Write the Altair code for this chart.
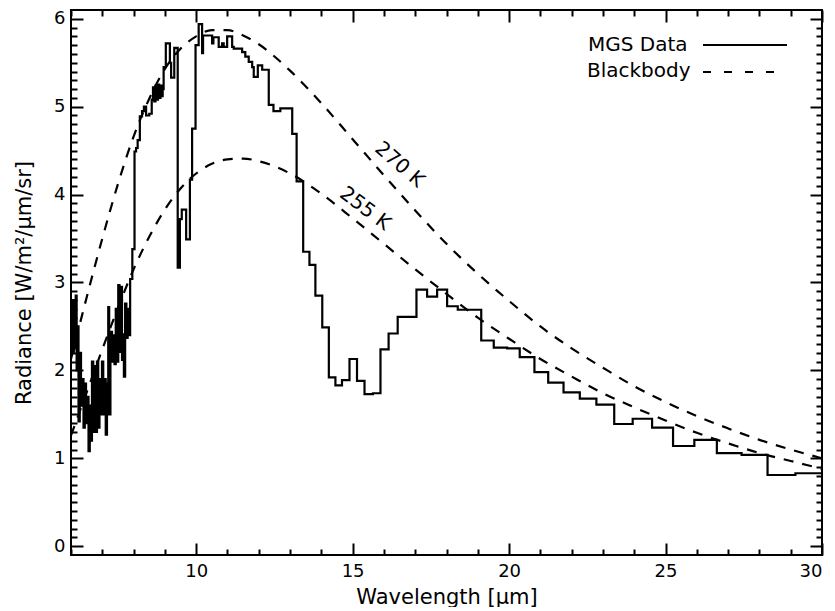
import altair as alt
import pandas as pd

# ---- MGS (TES) spectrum: step bins (left edge, micron) and radiance ----
mgs_wavelength = [
    6.00, 6.03, 6.06, 6.09, 6.12, 6.15, 6.18, 6.21, 6.24, 6.28, 6.32, 6.36, 6.40, 6.44,
    6.48, 6.52, 6.56, 6.60, 6.63, 6.67, 6.71, 6.75, 6.79, 6.83, 6.87, 6.91, 6.95, 6.99,
    7.03, 7.07, 7.11, 7.15, 7.19, 7.22, 7.26, 7.31, 7.35, 7.39, 7.43, 7.47, 7.51, 7.55,
    7.59, 7.63, 7.66, 7.69, 7.73, 7.77, 7.81, 7.85, 7.89, 7.96, 8.03, 8.08, 8.13, 8.20,
    8.27, 8.33, 8.40, 8.50, 8.58, 8.62, 8.66, 8.70, 8.74, 8.78, 8.82, 8.86, 8.90, 8.93,
    8.96, 9.03, 9.16, 9.20, 9.30, 9.41, 9.48, 9.54, 9.68, 9.80, 9.87, 9.98, 10.08, 10.19,
    10.22, 10.51, 10.55, 10.72, 10.83, 10.88, 10.99, 11.15, 11.20, 11.47, 11.57, 11.68,
    11.79, 11.84, 11.97, 12.11, 12.32, 12.47, 12.69, 13.07, 13.21, 13.42, 13.62, 13.81,
    14.03, 14.24, 14.45, 14.66, 14.90, 15.14, 15.38, 15.65, 15.89, 16.15, 16.44, 17.04,
    17.38, 17.70, 18.02, 18.36, 19.11, 19.51, 19.94, 20.34, 20.81, 21.25, 21.74, 22.26,
    22.79, 23.36, 23.95, 24.57, 25.24, 25.92, 26.64, 27.43, 28.26, 29.15, 30.00,
]
mgs_radiance = [
    2.30, 2.80, 2.20, 2.80, 2.25, 2.85, 2.00, 2.50, 1.42, 2.20, 1.60, 1.90, 1.35, 1.85,
    1.40, 1.70, 1.08, 1.60, 1.20, 2.10, 1.30, 2.05, 1.30, 2.10, 1.35, 1.90, 1.50, 2.10,
    1.50, 1.90, 1.27, 1.85, 2.72, 1.50, 2.44, 2.10, 2.40, 2.07, 2.70, 2.10, 2.97, 2.21,
    2.95, 2.12, 2.41, 1.93, 2.76, 2.37, 2.70, 2.40, 3.04, 3.38, 4.49, 4.53, 4.62, 4.89,
    4.95, 5.00, 4.90, 4.92, 5.08, 5.22, 5.06, 5.24, 5.08, 5.25, 5.10, 5.24, 5.12, 5.20,
    5.45, 5.72, 5.50, 5.33, 5.67, 3.17, 3.72, 3.83, 3.49, 4.17, 4.75, 5.70, 5.94, 5.61,
    5.81, 5.72, 5.79, 5.68, 5.72, 5.68, 5.80, 5.68, 5.66, 5.62, 5.57, 5.51,
    5.45, 5.34, 5.47, 5.42, 5.02, 4.95, 4.98, 4.69, 4.15, 3.35, 3.20, 2.85,
    2.49, 1.92, 1.83, 1.89, 2.13, 1.88, 1.73, 1.74, 2.24, 2.42, 2.61, 2.92,
    2.84, 2.92, 2.73, 2.69, 2.34, 2.26, 2.25, 2.15, 1.98, 1.86, 1.75, 1.68,
    1.61, 1.39, 1.45, 1.35, 1.14, 1.21, 1.06, 1.04, 0.81, 0.83, 0.83,
]

# ---- Blackbody curves ----
bb_wavelength = [6.0, 6.5, 7.0, 7.5, 8.0, 8.5, 9.0, 9.5, 10.0, 10.5, 11.0, 11.5, 12.0,
                 13.0, 14.0, 15.0, 16.0, 17.0, 18.0, 19.0, 20.0, 21.0, 22.0, 23.0, 24.0,
                 25.0, 26.0, 27.0, 28.0, 29.0, 30.0]
bb_270 = [2.13, 2.83, 3.50, 4.12, 4.66, 5.09, 5.43, 5.66, 5.80, 5.87, 5.87, 5.81, 5.71,
          5.41, 5.04, 4.63, 4.22, 3.82, 3.44, 3.10, 2.79, 2.50, 2.25, 2.03, 1.82,
          1.64, 1.48, 1.34, 1.21, 1.10, 1.00]
bb_255 = [1.26, 1.75, 2.24, 2.71, 3.15, 3.52, 3.83, 4.07, 4.24, 4.35, 4.40, 4.41, 4.38,
          4.24, 4.01, 3.73, 3.44, 3.15, 2.87, 2.60, 2.36, 2.13, 1.93, 1.74, 1.58,
          1.43, 1.29, 1.17, 1.06, 0.97, 0.88]

curve_labels = ["270 K", "255 K"]
curve_label_x = [16.5, 15.4]
curve_label_y = [4.34, 3.84]
curve_label_angle = [41, 37]

legend_labels = ["MGS Data", "Blackbody"]

x_major = [10, 15, 20, 25, 30]
x_minor = [v for v in range(6, 31) if v % 5 != 0]
y_major = [0, 1, 2, 3, 4, 5, 6]
y_minor = [round(i * 0.1, 1) for i in range(1, 60) if i % 10 != 0]

FONT = "DejaVu Sans"
FS = 18      # tick labels
TFS = 21     # titles, legend, curve labels

mgs_df = pd.DataFrame({"wl": mgs_wavelength, "rad": mgs_radiance})
bb_df = pd.DataFrame({"wl": bb_wavelength, "t270": bb_270, "t255": bb_255})
lab_df = pd.DataFrame({"wl": curve_label_x, "rad": curve_label_y, "text": curve_labels,
                       "angle": curve_label_angle})

xs = alt.Scale(domain=[6, 30], nice=False, zero=False)
ys = alt.Scale(domain=[-0.1, 6.1], nice=False, zero=False)


def ax(orient, values, size, labels=False, title=None, **kw):
    return alt.Axis(orient=orient, values=values, tickSize=size, offset=-size,
                    domain=False, grid=False, labels=labels, title=title,
                    tickColor="black", tickWidth=2, labelFont=FONT, labelFontSize=FS,
                    labelColor="black", titleFont=FONT, titleFontSize=TFS,
                    titleFontWeight="normal", titleColor="black", **kw)


data_line = alt.Chart(mgs_df).mark_line(
    interpolate="step-after", color="black", strokeWidth=2.2, clip=True
).encode(
    x=alt.X("wl:Q", scale=xs, axis=ax("bottom", x_major, 12, labels=True,
                                       title="Wavelength [μm]", labelPadding=7,
                                       titlePadding=6)),
    y=alt.Y("rad:Q", scale=ys, axis=ax("left", y_major, 12, labels=True,
                                        title="Radiance [W/m²/μm/sr]", labelPadding=6,
                                        titlePadding=19)),
)

bb1 = alt.Chart(bb_df).mark_line(
    interpolate="monotone", color="black", strokeWidth=2.2, strokeDash=[10, 9], clip=True
).encode(
    x=alt.X("wl:Q", scale=xs, axis=ax("bottom", x_minor, 6)),
    y=alt.Y("t270:Q", scale=ys, axis=ax("left", y_minor, 6)),
)

bb2 = alt.Chart(bb_df).mark_line(
    interpolate="monotone", color="black", strokeWidth=2.2, strokeDash=[10, 9], clip=True
).encode(
    x=alt.X("wl:Q", scale=xs, axis=ax("top", x_major, 12)),
    y=alt.Y("t255:Q", scale=ys, axis=ax("right", y_major, 12)),
)

labels = alt.Chart(lab_df).mark_text(
    font=FONT, fontSize=TFS - 1, color="black", align="center", baseline="middle"
).encode(
    x=alt.X("wl:Q", scale=xs, axis=ax("top", x_minor, 6)),
    y=alt.Y("rad:Q", scale=ys, axis=ax("right", y_minor, 6)),
    text="text:N",
    angle=alt.Angle("angle:Q", scale=None),
)

leg_text1 = alt.Chart(pd.DataFrame({"label": [legend_labels[0]]})).mark_text(
    font=FONT, fontSize=TFS - 1, color="black", align="left", baseline="middle"
).encode(x=alt.value(517), y=alt.value(35), text="label:N")
leg_text2 = alt.Chart(pd.DataFrame({"label": [legend_labels[1]]})).mark_text(
    font=FONT, fontSize=TFS - 1, color="black", align="left", baseline="middle"
).encode(x=alt.value(516), y=alt.value(61), text="label:N")
leg_line1 = alt.Chart(pd.DataFrame({"label": [legend_labels[0]]})).mark_rule(
    color="black", strokeWidth=2.2
).encode(x=alt.value(632), x2=alt.value(716), y=alt.value(35))
leg_line2 = alt.Chart(pd.DataFrame({"label": [legend_labels[1]]})).mark_rule(
    color="black", strokeWidth=2.2, strokeDash=[8, 13]
).encode(x=alt.value(632), x2=alt.value(716), y=alt.value(62))

chart = alt.layer(
    data_line, bb1, bb2, labels, leg_text1, leg_text2, leg_line1, leg_line2
).resolve_axis(
    x="independent", y="independent"
).properties(
    width=751, height=545, autosize="none",
    padding={"left": 63, "top": 2, "right": 4, "bottom": 52},
    background="white",
).configure_view(
    stroke="black", strokeWidth=2
)

chart.save("out.html", embed_options={"renderer": "svg", "actions": False})
